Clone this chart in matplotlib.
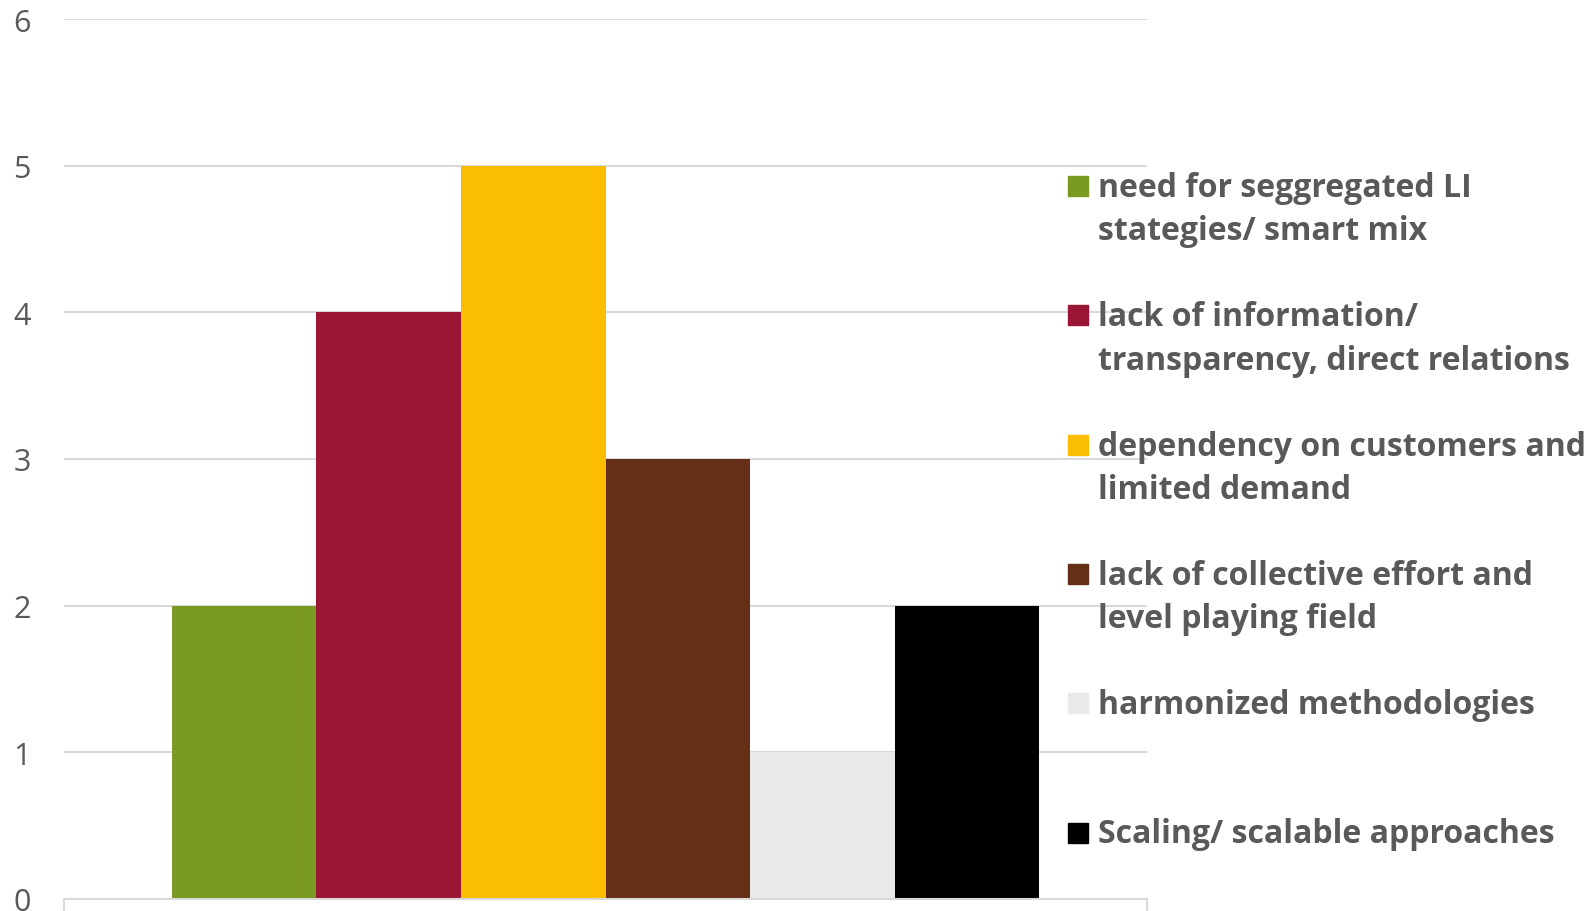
import matplotlib.pyplot as plt
import numpy as np
from matplotlib.patches import Rectangle

categories = [
    "need for seggregated LI\nstategies/ smart mix",
    "lack of information/\ntransparency, direct relations",
    "dependency on customers and\nlimited demand",
    "lack of collective effort and\nlevel playing field",
    "harmonized methodologies",
    "Scaling/ scalable approaches",
]
values = [2, 4, 5, 3, 1, 2]
colors = ["#7A9A23", "#9B1535", "#FABD00", "#652E17", "#E8E9E8", "#000000"]
yticks = [0, 1, 2, 3, 4, 5, 6]

W, H = 1588, 912
plt.rcParams['font.family'] = ['Open Sans', 'DejaVu Sans']
fig = plt.figure(figsize=(W / 100, H / 100), dpi=100)
ax = fig.add_axes([64 / W, 1 - 900 / H, (1147 - 64) / W, (900 - 20) / H])

x = np.arange(len(values))
ax.bar(x, values, width=1.0, color=colors, zorder=2)
ax.set_xlim(-1.247, 6.247)
ax.set_ylim(0, 6)

ax.set_yticks(yticks)
ax.set_yticklabels([str(t) for t in yticks], fontsize=22, color="#595959")
ax.tick_params(axis='y', length=0, pad=24)
ax.set_xticks(ax.get_xlim())
ax.set_xticklabels([])
ax.tick_params(axis='x', length=9, width=1.5, color="#D9D9D9", direction='out')
ax.grid(axis='y', color="#D9D9D9", linewidth=1.5, zorder=0)
ax.set_axisbelow(True)
for s in ['top', 'right', 'left']:
    ax.spines[s].set_visible(False)
ax.spines['bottom'].set_color("#D9D9D9")
ax.spines['bottom'].set_linewidth(1.5)

# legend, drawn by hand (marker aligned to first line)
def fx(px):
    return px / W

def fy(py):
    return 1 - py / H

for i, (lab, c) in enumerate(zip(categories, colors)):
    base = 197 + 129.3 * i
    fig.patches.append(Rectangle((fx(1068), fy(base)), 20 / W, 20 / H,
                                 transform=fig.transFigure, color=c, zorder=3))
    for j, line in enumerate(lab.split("\n")):
        fig.text(fx(1098), fy(base + 43.3 * j), line, fontsize=23,
                 fontweight='bold', color="#595959", va='baseline', ha='left')

fig.savefig("out.png", dpi=100)
